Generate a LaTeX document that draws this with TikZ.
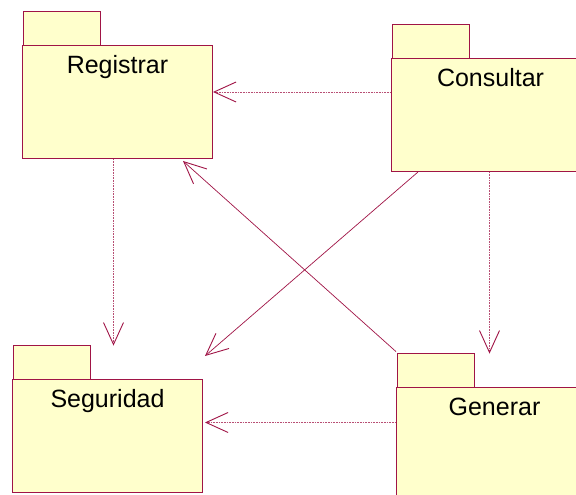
\documentclass[tikz,border=0pt]{standalone}
\usepackage{fontspec}
\setmainfont{Liberation Sans}
\usetikzlibrary{arrows.meta}
\definecolor{pkgline}{RGB}{160,20,70}
\definecolor{pkgfill}{RGB}{255,255,204}
\tikzset{
  x=1pt, y=1pt,
  pkgbody/.style={draw=pkgline, fill=pkgfill, line width=1pt, anchor=north west,
    minimum width=#1, minimum height=113pt, inner sep=0pt},
  pkgbody/.default=190pt,
  pkgtab/.style={fill=pkgfill, anchor=south west, minimum width=77pt,
    minimum height=33pt, inner sep=0pt},
  tabedge/.style={draw=pkgline, line width=1pt},
  pkglabel/.style={anchor=base, font=\fontsize{25}{28}\selectfont, inner sep=0pt},
  dep/.style={draw=pkgline!75, line width=0.9pt, dash pattern=on 1pt off 0.6pt,
    -{Straight Barb[length=22pt,width=20pt,line width=0.9pt,color=pkgline]}},
  imp/.style={draw=pkgline, line width=0.7pt,
    -{Straight Barb[length=22pt,width=20pt,line width=0.9pt]}},
}
\begin{document}
\begin{tikzpicture}
\clip (0,0) rectangle (576,495);
\fill[white] (0,0) rectangle (576,495);

% package bodies
\node[pkgbody] (reg) at (22,450) {};
\node[pkgbody=198pt] (con) at (391,437) {};
\node[pkgbody] (seg) at (12,116) {};
\node[pkgbody=196pt] (gen) at (396,108) {};

% package tabs
\foreach \p in {reg,con,seg,gen} {
  \node[pkgtab] (\p tab) at ([xshift=1pt]\p.north west) {};
  \draw[tabedge] (\p tab.south west) -- (\p tab.north west) -- (\p tab.north east) -- (\p tab.south east);
}

% labels
\node[pkglabel] (regl) at ([yshift=-28.5pt]reg.north) {Registrar};
\node[pkglabel] (conl) at ([yshift=-28.5pt]con.north) {Consultar};
\node[pkglabel] (segl) at ([yshift=-28.5pt]seg.north) {Seguridad};
\node[pkglabel] (genl) at ([yshift=-28.5pt]gen.north) {Generar};

% connector end points
\coordinate (c1) at ([yshift=23pt]con.west);
\coordinate (c2) at ([xshift=-4pt]reg.south);
\coordinate (c3) at ([xshift=-1pt]con.south);
\coordinate (c4) at ([yshift=21.5pt]gen.west);
\coordinate (c5) at ([xshift=27pt]con.south west);
\coordinate (c6) at ([xshift=2pt,yshift=23pt]seg.north east);
\coordinate (c7) at ([xshift=-1pt,yshift=2pt]gentab.north west);
\coordinate (c8) at ([xshift=-30pt,yshift=-2pt]reg.south east);

% dependencies
\draw[dep] (c1) -- (c1 -| reg.east);
\draw[dep] (c2) -- (c2 |- segtab.north);
\draw[dep] (c3) -- (c3 |- gentab.north);
\draw[dep] (c4) -- ([xshift=2pt]c4 -| seg.east);
\draw[imp] (c5) -- (c6);
\draw[imp] (c7) -- (c8);
\end{tikzpicture}
\end{document}
